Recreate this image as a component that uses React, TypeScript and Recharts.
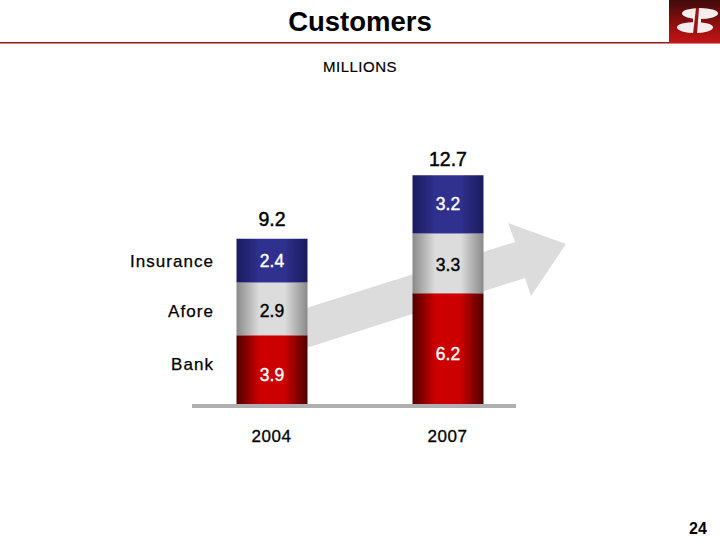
import { BarChart, Bar, XAxis, YAxis, LabelList } from 'recharts';

// ── Data ──────────────────────────────────────────────────────────────────────

const years = ['2004', '2007'];
const bank = [3.9, 6.2];
const afore = [2.9, 3.3];
const insurance = [2.4, 3.2];
const totals = ['9.2', '12.7'];
const seriesNames = ['Insurance', 'Afore', 'Bank'];

const FONT = '"Liberation Sans", Arial, sans-serif';

const chartData = years.map((year, i) => ({
  year,
  bank: bank[i],
  afore: afore[i],
  insurance: insurance[i],
  total: totals[i],
}));

// ── Gradients ─────────────────────────────────────────────────────────────────

function sideGradient(id: string, edge: string, mid: string) {
  return (
    <linearGradient id={id} x1="0" y1="0" x2="1" y2="0">
      <stop offset="0%" stopColor={edge} />
      <stop offset="32%" stopColor={mid} />
      <stop offset="68%" stopColor={mid} />
      <stop offset="100%" stopColor={edge} />
    </linearGradient>
  );
}

// ── Labels ────────────────────────────────────────────────────────────────────

// the slide nudges its labels by hand, so each series carries its own shift
function segmentLabel(fill: string, shift: number) {
  return (props: any) => (
    <text
      x={props.x + props.width / 2}
      y={props.y + props.height / 2 + shift}
      textAnchor="middle"
      dominantBaseline="central"
      fontFamily={FONT}
      fontSize={17.5}
      fill={fill}
      stroke={fill}
      strokeWidth={0.4}
    >
      {props.value}
    </text>
  );
}

function totalLabel(props: any) {
  // 9.2 sits higher above its bar than 12.7 does
  const gap = props.index === 0 ? 20 : 16;
  return (
    <text
      x={props.x + props.width / 2}
      y={props.y - gap}
      textAnchor="middle"
      dominantBaseline="central"
      fontFamily={FONT}
      fontSize={19.5}
      fill="#000"
      stroke="#000"
      strokeWidth={0.45}
    >
      {props.value}
    </text>
  );
}

// ── Slide furniture drawn behind the chart ────────────────────────────────────

function Backdrop() {
  const legendY = [267, 317, 370];
  return (
    <svg width={720} height={540} style={{ position: 'absolute', left: 0, top: 0 }}>
      <defs>
        <linearGradient id="logo-grad" x1="0" y1="0" x2="0" y2="1">
          <stop offset="0%" stopColor="#420a0a" />
          <stop offset="100%" stopColor="#c81414" />
        </linearGradient>
      </defs>

      <text x={360} y={31} textAnchor="middle" fontFamily={FONT} fontSize={27.5} fontWeight={700} fill="#000">
        Customers
      </text>
      <rect x={0} y={42} width={720} height={1.5} fill="#a01414" />
      <rect x={669} y={0} width={51} height={43} fill="url(#logo-grad)" />
      <ellipse cx={700} cy={13.5} rx={18} ry={5.5} fill="#f4eeee" />
      <ellipse cx={695} cy={27.5} rx={18} ry={5.5} fill="#f4eeee" />
      <rect x={693} y={14} width={8} height={12} fill="#f4eeee" />
      <polygon points="696,8 699,8 697,34 693,34" fill="#9a1414" />

      <text
        x={360}
        y={72}
        textAnchor="middle"
        fontFamily={FONT}
        fontSize={15}
        letterSpacing={0.5}
        stroke="#000"
        strokeWidth={0.2}
        fill="#000"
      >
        MILLIONS
      </text>

      <polygon
        points="300,310 515,242 508,223 566,244 531,296 525,278 300,350"
        fill="#dcdcdc"
      />

      {seriesNames.map((name, i) => (
        <text
          key={name}
          x={214}
          y={legendY[i]}
          textAnchor="end"
          fontFamily={FONT}
          fontSize={17}
          letterSpacing={1.05}
          stroke="#000"
          strokeWidth={0.25}
          fill="#000"
        >
          {name}
        </text>
      ))}

      <text x={698} y={534} textAnchor="middle" fontFamily={FONT} fontSize={16} fontWeight={700} fill="#000">
        24
      </text>
    </svg>
  );
}

// ── Public component ──────────────────────────────────────────────────────────

export default function App() {
  return (
    <div style={{ position: 'absolute', left: 0, top: 0, width: 720, height: 540, background: '#fff' }}>
      <Backdrop />
      <div style={{ position: 'absolute', left: 0, top: 0 }}>
        <BarChart
          width={720}
          height={540}
          data={chartData}
          margin={{ top: 133.5, right: 204, bottom: 104, left: 192 }}
        >
          <defs>
            {sideGradient('grad-red', '#500000', '#cc0000')}
            {sideGradient('grad-gray', '#8a8a8a', '#dcdcdc')}
            {sideGradient('grad-blue', '#1a1a5c', '#30308f')}
          </defs>
          <YAxis hide domain={[0, 15]} />
          <XAxis
            dataKey="year"
            scale="point"
            height={30}
            padding={{ left: 79.5, right: 68.5 }}
            axisLine={{ stroke: '#b0b0b0', strokeWidth: 4 }}
            tickLine={false}
            tickMargin={18}
            tick={{ fontFamily: FONT, fontSize: 17, letterSpacing: 0.6, fill: '#000', stroke: '#000', strokeWidth: 0.3 }}
          />
          <Bar dataKey="bank" stackId="a" barSize={71} fill="url(#grad-red)" isAnimationActive={false}>
            <LabelList dataKey="bank" content={segmentLabel('#fff', 4)} />
          </Bar>
          <Bar dataKey="afore" stackId="a" barSize={71} fill="url(#grad-gray)" isAnimationActive={false}>
            <LabelList dataKey="afore" content={segmentLabel('#000', 2)} />
          </Bar>
          <Bar dataKey="insurance" stackId="a" barSize={71} fill="url(#grad-blue)" isAnimationActive={false}>
            <LabelList dataKey="insurance" content={segmentLabel('#fff', 0)} />
            <LabelList dataKey="total" content={totalLabel} />
          </Bar>
        </BarChart>
      </div>
    </div>
  );
}
